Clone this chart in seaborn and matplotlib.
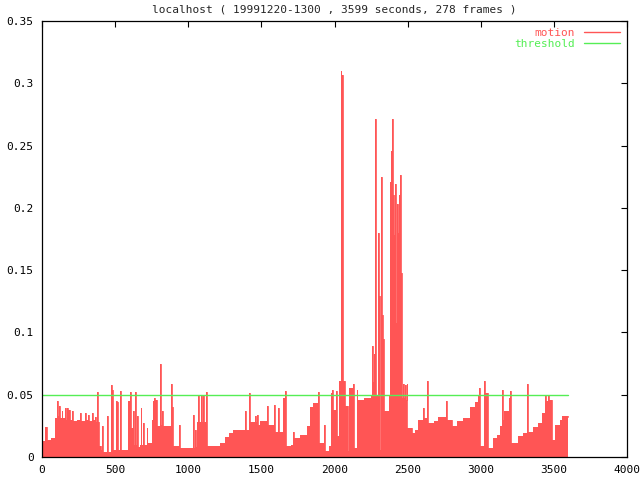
import matplotlib
matplotlib.use("Agg")
import matplotlib.pyplot as plt
from matplotlib.lines import Line2D
import seaborn as sns
import numpy as np

# ---- data (change points of the motion series: time [s], motion level) ----
motion_t = [0, 20, 32, 60, 89, 105, 112, 116, 123, 134, 140, 157, 163, 169, 180, 191, 203, 209,
            237, 260, 266, 294, 300, 312, 318, 340, 346, 362, 368, 376, 382, 390, 400, 408, 415,
            419, 442, 448, 453, 472, 478, 484, 506, 515, 522, 533, 539, 590, 601, 607, 613, 624,
            630, 636, 642, 647, 653, 670, 674, 680, 693, 699, 715, 721, 750, 756, 761, 768, 774,
            784, 807, 809, 815, 818, 824, 830, 880, 884, 890, 898, 939, 945, 1034, 1041, 1046,
            1052, 1062, 1069, 1075, 1087, 1093, 1103, 1109, 1121, 1127, 1180, 1217, 1250, 1280,
            1308, 1388, 1394, 1417, 1423, 1456, 1462, 1468, 1474, 1490, 1536, 1542, 1586, 1592,
            1616, 1622, 1645, 1661, 1667, 1700, 1718, 1724, 1764, 1798, 1810, 1832, 1850, 1889,
            1896, 1930, 1935, 1965, 1974, 1980, 1985, 1992, 2010, 2016, 2033, 2042, 2047, 2053,
            2058, 2072, 2094, 2101, 2124, 2133, 2151, 2157, 2200, 2247, 2254, 2264, 2270, 2277,
            2283, 2298, 2304, 2310, 2318, 2324, 2330, 2334, 2340, 2370, 2380, 2387, 2393, 2400,
            2407, 2414, 2421, 2428, 2435, 2442, 2449, 2456, 2462, 2466, 2472, 2482, 2488, 2493,
            2499, 2527, 2550, 2573, 2603, 2609, 2635, 2641, 2680, 2710, 2762, 2768, 2801, 2835,
            2880, 2926, 2960, 2983, 2990, 2996, 3024, 3030, 3047, 3086, 3109, 3131, 3147, 3153,
            3159, 3195, 3200, 3206, 3257, 3291, 3318, 3324, 3359, 3390, 3416, 3439, 3445, 3462,
            3469, 3489, 3507, 3542, 3553, 3580, 3599]
motion_v = [0.013, 0.024, 0.014, 0.015, 0.031, 0.045, 0.033, 0.041, 0.031, 0.037, 0.031, 0.039,
            0.030, 0.039, 0.038, 0.030, 0.037, 0.029, 0.030, 0.035, 0.029, 0.035, 0.030, 0.034,
            0.029, 0.035, 0.030, 0.032, 0.028, 0.052, 0.028, 0.0085, 0.006, 0.025, 0.006, 0.004,
            0.033, 0.020, 0.004, 0.058, 0.054, 0.006, 0.045, 0.044, 0.006, 0.053, 0.006, 0.045,
            0.052, 0.023, 0.023, 0.037, 0.010, 0.052, 0.010, 0.033, 0.008, 0.010, 0.039, 0.010,
            0.027, 0.010, 0.023, 0.011, 0.030, 0.014, 0.045, 0.047, 0.046, 0.025, 0.025, 0.075,
            0.026, 0.037, 0.026, 0.025, 0.027, 0.059, 0.040, 0.0085, 0.026, 0.007, 0.034, 0.007,
            0.022, 0.008, 0.028, 0.050, 0.028, 0.050, 0.028, 0.050, 0.028, 0.052, 0.0085, 0.009,
            0.011, 0.016, 0.019, 0.022, 0.037, 0.022, 0.051, 0.028, 0.033, 0.028, 0.034, 0.026,
            0.029, 0.041, 0.026, 0.042, 0.020, 0.039, 0.020, 0.047, 0.053, 0.0085, 0.010, 0.020,
            0.015, 0.018, 0.018, 0.025, 0.040, 0.043, 0.052, 0.011, 0.026, 0.0045, 0.009, 0.051,
            0.040, 0.054, 0.038, 0.053, 0.017, 0.061, 0.310, 0.061, 0.307, 0.061, 0.041, 0.005,
            0.055, 0.059, 0.007, 0.054, 0.046, 0.047, 0.049, 0.089, 0.060, 0.083, 0.271, 0.050,
            0.180, 0.129, 0.006, 0.2245, 0.114, 0.037, 0.095, 0.037, 0.050, 0.221, 0.246, 0.271,
            0.210, 0.178, 0.219, 0.1075, 0.203, 0.180, 0.210, 0.226, 0.148, 0.047, 0.059, 0.047,
            0.058, 0.046, 0.059, 0.023, 0.019, 0.022, 0.030, 0.039, 0.031, 0.061, 0.027, 0.029,
            0.032, 0.045, 0.030, 0.025, 0.029, 0.031, 0.040, 0.044, 0.049, 0.055, 0.009, 0.061,
            0.051, 0.007, 0.015, 0.018, 0.025, 0.054, 0.030, 0.037, 0.047, 0.053, 0.011, 0.017,
            0.019, 0.059, 0.020, 0.024, 0.027, 0.035, 0.050, 0.045, 0.050, 0.046, 0.014, 0.026,
            0.030, 0.033, 0.033, 0.032]
threshold_t = [0, 3599]
threshold_v = [0.05, 0.05]

title = "localhost ( 19991220-1300 , 3599 seconds, 278 frames )"
x_ticks = [0, 500, 1000, 1500, 2000, 2500, 3000, 3500, 4000]
y_ticks = [0, 0.05, 0.1, 0.15, 0.2, 0.25, 0.3, 0.35]
y_labels = ["0", "0.05", "0.1", "0.15", "0.2", "0.25", "0.3", "0.35"]

RED = "#ff5555"
GREEN = "#55ee55"

sns.set_style("white")
plt.rcParams["font.family"] = ["DejaVu Sans Mono"]

fig = plt.figure(figsize=(6.4, 4.8), dpi=100)
ax = fig.add_axes([42 / 640, 23 / 480, 585 / 640, 436 / 480])

ax.fill_between(motion_t, motion_v, 0, step="post", color=RED, linewidth=0)
sns.lineplot(x=motion_t, y=motion_v, drawstyle="steps-post", color=RED, linewidth=0.6,
             ax=ax, legend=False)
sns.lineplot(x=threshold_t, y=threshold_v, color=GREEN, linewidth=1.0, ax=ax, legend=False)

ax.set_xlim(0, 4000)
ax.set_ylim(0, 0.35)
ax.set_xticks(x_ticks)
ax.set_xticklabels([str(v) for v in x_ticks])
ax.set_yticks(y_ticks)
ax.set_yticklabels(y_labels)
ax.set_xlabel("")
ax.set_ylabel("")
ax.tick_params(direction="in", length=4.5, width=0.8, top=True, right=True,
               labelsize=8, colors="black", pad=6)
for s in ax.spines.values():
    s.set_visible(True)
    s.set_color("black")
    s.set_linewidth(0.9)

ax.set_title(title, fontsize=8, pad=6)

handles = [Line2D([], [], color=RED, lw=1, label="motion"),
           Line2D([], [], color=GREEN, lw=1, label="threshold")]
leg = ax.legend(handles=handles, loc="upper right", frameon=False, markerfirst=False,
                fontsize=8, handlelength=3.3, handletextpad=0.8, labelspacing=0.15,
                borderaxespad=0.3, borderpad=0.3)
for txt, c in zip(leg.get_texts(), [RED, GREEN]):
    txt.set_color(c)

fig.savefig("out.png", dpi=100, facecolor="white")
